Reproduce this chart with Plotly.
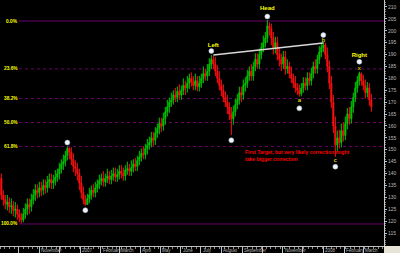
import plotly.graph_objects as go
import pandas as pd

# ---------------- data ----------------
opens = [138, 131, 129, 127, 128, 126, 126.5, 124.5, 125, 123,
         121.5, 120.5, 123, 125, 127, 126, 129, 131, 133, 132,
         134, 133, 135, 134, 136.5, 137.5, 136, 137, 138.5, 140,
         142, 144, 145, 147.5, 150.5, 149, 146, 143, 142, 140,
         136, 132, 129, 127, 129.5, 131, 133, 132, 134, 135.5,
         137, 138, 136.5, 138, 139, 137.5, 139, 140, 138.5, 139.5,
         141, 140, 139, 141.5, 142, 141, 142.5, 144, 143, 145.5,
         147, 148.5, 148, 150.5, 152, 153, 155, 154, 157, 159,
         161, 160, 163, 166, 168, 170, 171, 173, 172, 174.5,
         173, 175, 177, 176, 178, 180, 178.5, 177, 179, 176.5,
         178, 180, 182, 181, 183, 186, 188, 186, 183, 180,
         177, 175, 172, 170, 168, 165, 163, 166, 169, 171,
         174, 173, 177, 178, 181, 183, 181, 185, 188, 186,
         190, 193, 195, 197, 202, 201, 197, 193, 195, 190,
         188, 186, 189, 184, 185, 182, 180, 178, 176, 175,
         173.5, 176, 178, 177, 180, 179, 182, 185, 184, 188,
         191, 193, 194, 190, 185, 178, 170, 160, 152, 155,
         153, 158, 156, 161, 165, 163, 168, 172, 176, 179,
         182, 179, 177, 174, 176, 171]
highs = [140, 133, 131, 131, 130, 129.5, 128.5, 128, 127, 125,
         123.5, 125.5, 127.5, 129.5, 129.5, 131.5, 133.5, 135.5, 135.5, 136.5,
         136.5, 137.5, 137.5, 139, 140, 140, 139.5, 141.5, 142, 144.5,
         146, 148, 149.5, 151.3, 151, 151, 148.5, 145.5, 144.5, 142,
         139, 134.5, 131, 131.5, 134, 135, 135.5, 136.5, 137.5, 139.5,
         140, 141, 140, 142, 141, 141.5, 142.5, 142.5, 142, 143.5,
         143.5, 142.5, 143.5, 145, 144, 145.5, 146, 146.5, 147.5, 149.5,
         150.5, 151.5, 152.5, 154.5, 155.5, 157.5, 157.5, 159.5, 161, 163.5,
         163.5, 165.5, 168, 171, 172, 174, 175, 176, 176.5, 177.5,
         177, 180, 179, 181, 182, 182.5, 181, 182, 181, 181,
         182, 185, 184, 186, 188.5, 189.8, 189.5, 189, 185.5, 183,
         179.5, 177.5, 174.5, 173, 170, 168, 168.5, 171.5, 173.5, 176.5,
         176.5, 179.5, 180.5, 183.5, 185, 186, 187, 190.5, 190.5, 192.5,
         195, 198, 199.5, 204.5, 203.5, 203, 199.5, 197.5, 197.5, 193,
         190.5, 191.5, 191.5, 188, 187, 185, 182, 181, 178, 177.5,
         178, 180.5, 180.5, 182.5, 182.5, 184.5, 187, 188, 190, 193.5,
         195, 195.5, 195, 193, 187.5, 181, 173, 164, 158, 158.5,
         161, 161.5, 164, 167.5, 168, 170.5, 174, 178.5, 181, 182.8,
         182.5, 181.5, 179.5, 178.5, 178, 173.5]
lows = [129, 126.5, 125, 124.5, 123.5, 123, 122, 121.5, 120.5, 119.5,
        119, 119.5, 121, 122.5, 123, 124, 127, 128.5, 129.5, 130,
        130.5, 131, 131.5, 132, 134, 133.5, 133.5, 135, 136.5, 137.5,
        140, 141.5, 143, 145.5, 146, 143.5, 140.5, 139, 137, 133,
        129.5, 127, 126.5, 126.8, 127.5, 129, 130, 130, 132, 133.5,
        135, 134.5, 134.5, 136, 135.5, 135.5, 137, 136.5, 136.5, 137.5,
        138, 137, 137, 139.5, 139, 139, 140.5, 141, 141, 143.5,
        145, 146, 146, 148, 150, 151, 151.5, 152, 155, 156.5,
        157.5, 158, 160.5, 164, 165.5, 168, 169, 170, 170, 171,
        171, 173, 173, 174, 175.5, 176.5, 175, 175, 174.5, 174.5,
        176, 178, 179, 179, 181, 184, 184, 181, 178, 175,
        172.5, 170, 168, 165, 162.5, 156.2, 160.5, 164, 167, 169,
        170, 171, 174.5, 176, 179, 179, 179, 183, 184, 184,
        188, 191, 193, 195, 198, 194, 190, 190.5, 187.5, 185,
        183, 184, 181.5, 182, 180, 178, 176, 174, 173, 172.3,
        172.5, 174, 175, 175, 177, 177, 180, 182, 182, 186,
        189, 191, 188, 182.5, 175.5, 167.5, 157, 147, 149.5, 150.5,
        151, 153.5, 154, 158.5, 160.5, 161, 165.5, 170, 174, 177,
        177, 175, 171.5, 172, 168.5, 166]
closes = [131, 129, 127.5, 128, 126, 126.5, 124.5, 125, 123, 121.5,
          120.5, 123, 125, 127, 126, 129, 131, 133, 132, 134,
          133, 135, 134, 136.5, 137.5, 136, 137, 138.5, 140, 142,
          144, 145, 147.5, 150.5, 149, 146, 143, 142, 140, 136,
          132, 129, 127, 129.5, 131, 133, 132, 134, 135.5, 137,
          138, 136.5, 138, 139, 137.5, 139, 140, 138.5, 139.5, 141,
          140, 139, 141.5, 142, 141, 142.5, 144, 143, 145.5, 147,
          148.5, 148, 150.5, 152, 153, 155, 154, 157, 159, 161,
          160, 163, 166, 168, 170, 171, 173, 172, 174.5, 173,
          175, 177, 176, 178, 180, 178.5, 177, 179, 176.5, 178,
          180, 182, 181, 183, 186, 188, 186, 183, 180, 177,
          175, 172, 170, 168, 165, 163, 166, 169, 171, 174,
          173, 177, 178, 181, 183, 181, 185, 188, 186, 190,
          193, 195, 197, 202, 201, 197, 193, 195, 190, 188,
          186, 189, 184, 185, 182, 180, 178, 176, 175, 173.5,
          176, 178, 177, 180, 179, 182, 185, 184, 188, 191,
          193, 194, 190, 185, 178, 170, 160, 152, 155, 153,
          158, 156, 161, 165, 163, 168, 172, 176, 179, 182,
          179, 177, 174, 176, 171, 168]

start_date = "2006-09-05"
dates = pd.date_range(start_date, periods=len(closes), freq="3D")

# Fibonacci retracement levels
fib_high = 204.1
fib_low = 118.8
fib_ratios = [0.0, 0.236, 0.382, 0.5, 0.618, 1.0]
fib_labels = ["0.0%", "23.6%", "38.2%", "50.0%", "61.8%", "100.0%"]

# pivot points (white dots)
pivot_idx = [33, 42, 105, 115, 133, 149, 161, 167, 179]
pivot_price = [153.0, 124.6, 191.5, 154.0, 206.0, 167.4, 198.2, 142.9, 187.0]

# shoulder labels
shoulder_text = ["Left", "Head", "Right"]
shoulder_idx = [106, 133, 179]
shoulder_price = [194.0, 209.2, 189.8]

# wave letters
wave_text = ["a", "b", "c", "x"]
wave_idx = [149, 161, 167, 179]
wave_price = [170.6, 195.8, 145.3, 184.2]

# neckline
neck_idx = [106, 161]
neck_price = [189.8, 194.9]

note_lines = ["First Target, but very likely correction might", "take bigger correction"]
note_idx = 121
note_price = [149.0, 146.2]

month_dates = ["2006-09-01", "2006-11-01", "2007-01-01", "2007-02-01", "2007-03-01",
               "2007-04-01", "2007-05-01", "2007-06-01", "2007-07-01", "2007-08-01",
               "2007-09-01", "2007-11-01", "2008-01-01", "2008-02-01", "2008-03-01"]
month_labels = ["September", "November", "2007", "February", "March", "April", "May",
                "June", "July", "August", "September", "November", "2008", "February", "March"]
all_month_ticks = pd.date_range("2006-09-01", "2008-03-01", freq="MS")

y_ticks = list(range(115, 211, 5))

# ---------------- figure ----------------
FONT = "Liberation Sans"
fig = go.Figure()

fig.add_trace(go.Candlestick(
    x=dates, open=opens, high=highs, low=lows, close=closes,
    increasing=dict(line=dict(color="#00c800", width=1), fillcolor="#00c800"),
    decreasing=dict(line=dict(color="#ff1010", width=1), fillcolor="#ff1010"),
    showlegend=False, hoverinfo="skip"))

# neckline
fig.add_trace(go.Scatter(
    x=[dates[i] for i in neck_idx], y=neck_price, mode="lines",
    line=dict(color="#d8d8d8", width=1.5), showlegend=False, hoverinfo="skip"))

# pivot dots
fig.add_trace(go.Scatter(
    x=[dates[i] for i in pivot_idx], y=pivot_price, mode="markers",
    marker=dict(color="#f0f4ff", size=5, line=dict(color="#a0a8b8", width=0.5)),
    showlegend=False, hoverinfo="skip"))

# wave letters
fig.add_trace(go.Scatter(
    x=[dates[i] for i in wave_idx], y=wave_price, mode="text", text=wave_text,
    textfont=dict(family=FONT, size=6, color="#ffff00"),
    showlegend=False, hoverinfo="skip"))

# shoulder labels
fig.add_trace(go.Scatter(
    x=[dates[i] for i in shoulder_idx], y=shoulder_price, mode="text",
    text=["<b>%s</b>" % t for t in shoulder_text],
    textfont=dict(family=FONT, size=6, color="#ffff00"),
    showlegend=False, hoverinfo="skip"))

shapes = []
annotations = []
x_left = 19 / 384
for r, lab in zip(fib_ratios, fib_labels):
    lvl = fib_high - r * (fib_high - fib_low)
    solid = r in (0.0, 1.0)
    shapes.append(dict(type="line", xref="paper", yref="y", x0=x_left, x1=1, y0=lvl, y1=lvl,
                       line=dict(color="#680068", width=1, dash="solid" if solid else "dot"),
                       layer="below"))
    annotations.append(dict(xref="paper", yref="y", x=18.5 / 384, y=lvl, text="<b>%s</b>" % lab,
                            xanchor="right", yanchor="middle", showarrow=False,
                            borderpad=0,
                            font=dict(family=FONT, size=4.8, color="#ffff00")))

for ln, yp in zip(note_lines, note_price):
    annotations.append(dict(x=dates[note_idx], y=yp, xref="x", yref="y", text="<b>%s</b>" % ln,
                            xanchor="left", yanchor="middle", showarrow=False,
                            font=dict(family=FONT, size=5, color="#ff0000")))

for d, lab in zip(month_dates, month_labels):
    annotations.append(dict(x=d, xref="x", yref="paper", y=-0.6 / 246, text=lab,
                            xanchor="left", yanchor="top", xshift=1, showarrow=False,
                            borderpad=0,
                            font=dict(family=FONT, size=4.5, color="#b8b8b8")))

# bottom-right corner box
shapes.append(dict(type="rect", xref="paper", yref="paper", x0=1, x1=1 + 16 / 384,
                   y0=-7 / 246, y1=0, fillcolor="#e6e2d6", line=dict(width=0)))

fig.update_layout(
    width=400, height=253,
    margin=dict(l=0, r=16, t=0, b=7, pad=0),
    paper_bgcolor="#000000", plot_bgcolor="#000000",
    shapes=shapes, annotations=annotations,
    xaxis=dict(range=["2006-09-03", "2008-04-01"], rangeslider=dict(visible=False),
               showgrid=False, zeroline=False, showticklabels=False,
               showline=True, linecolor="#c0c0c0", linewidth=1,
               tickmode="array", tickvals=list(all_month_ticks), ticks="outside",
               ticklen=7, tickcolor="#c0c0c0", tickwidth=1,
               minor=dict(ticks="outside", ticklen=2, dtick=7 * 24 * 3600 * 1000,
                          tickcolor="#909090")),
    yaxis=dict(side="right", range=[109.54, 212.94], showgrid=False, zeroline=False,
               tickmode="array", tickvals=y_ticks, ticktext=[str(v) for v in y_ticks],
               ticks="outside", ticklen=2, tickcolor="#c0c0c0",
               showline=True, linecolor="#c8c8c8", linewidth=1,
               tickfont=dict(family=FONT, size=5, color="#b8b8b8"),
               minor=dict(ticks="outside", ticklen=1, dtick=1, tickcolor="#808080")),
    font=dict(family=FONT),
)

fig.write_html("out.html")
